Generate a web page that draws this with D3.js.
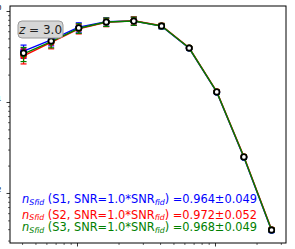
<!DOCTYPE html>
<html>
<head>
<meta charset="utf-8">
<script src="https://cdn.jsdelivr.net/npm/d3@7.9.0/dist/d3.min.js"></script>
<style>
  body { margin: 0; background: #fff; }
  svg { display: block; font-family: "DejaVu Sans", sans-serif; }
</style>
</head>
<body>
<div id="chart"></div>
<script>
const width = 295;
const height = 249;
const margin = { top: 6, right: 9, bottom: 6, left: 10 };

// bin centres (log spaced) and values
const xValues = [0.41, 0.65, 1.03, 1.63, 2.58, 4.10, 6.50, 10.3, 16.2, 25.7];
const fidValues = [0.345, 0.468, 0.651, 0.757, 0.776, 0.684, 0.392, 0.129, 0.0249, 0.00392];
const s1Values = [0.362, 0.482, 0.664, 0.762, 0.777, 0.682, 0.389, 0.128, 0.0246, 0.00388];
const s2Values = [0.322, 0.452, 0.638, 0.752, 0.781, 0.688, 0.394, 0.130, 0.0251, 0.00396];
const s3Values = [0.338, 0.462, 0.646, 0.757, 0.776, 0.684, 0.392, 0.129, 0.0249, 0.00392];
const errValues = [0.060, 0.068, 0.078, 0.080, 0.080, 0.045, 0.015, 0.005, 0.0012, 0.0002];

const seriesNames = ["S1", "S2", "S3"];
const seriesColors = ["#0000ff", "#ff0000", "#008000"];
const snrFactors = ["1.0", "1.0", "1.0"];
const scoreValues = ["0.964±0.049", "0.972±0.052", "0.968±0.049"];
const redshiftLabel = "3.0";

const yTickLabels = [["10", "0"], ["10", "−1"], ["10", "−2"]];

const svg = d3.select("#chart").append("svg")
    .attr("width", width)
    .attr("height", height);

const x = d3.scaleLog()
    .domain([0.327, 32.7])
    .range([margin.left, width - margin.right]);
const y = d3.scaleLog()
    .domain([0.00282, 1.135])
    .range([height - margin.bottom, margin.top]);

// ticks
function logTicks(lo, hi) {
    const out = [];
    for (let e = Math.floor(Math.log10(lo)); e <= Math.ceil(Math.log10(hi)); e++) {
        for (let m = 1; m < 10; m++) {
            const v = m * Math.pow(10, e);
            if (v >= lo && v <= hi) out.push(v);
        }
    }
    return out;
}
const isMajor = v => Math.abs(Math.log10(v) - Math.round(Math.log10(v))) < 1e-9;

const xTicks = logTicks(0.327, 32.7);
const yTicks = logTicks(0.00282, 1.135);

const xAxisG = svg.append("g")
    .attr("transform", "translate(0," + (height - margin.bottom) + ")")
    .call(d3.axisBottom(x).tickValues(xTicks).tickFormat("").tickSizeOuter(0));
xAxisG.select(".domain").remove();
xAxisG.selectAll(".tick line")
    .attr("y2", d => isMajor(d) ? 3.5 : 2)
    .attr("stroke-width", d => isMajor(d) ? 0.8 : 0.6);

const yAxisG = svg.append("g")
    .attr("transform", "translate(" + margin.left + ",0)")
    .call(d3.axisLeft(y).tickValues(yTicks).tickFormat("").tickSizeOuter(0));
yAxisG.select(".domain").remove();
yAxisG.selectAll(".tick line")
    .attr("x2", d => isMajor(d) ? -3.5 : -2)
    .attr("stroke-width", d => isMajor(d) ? 0.8 : 0.6);

// y tick labels (the crop only keeps their right tips)
const majorY = yTicks.filter(isMajor).sort((a, b) => b - a);
majorY.forEach((v, i) => {
    const t = svg.append("text")
        .attr("x", 1.5)
        .attr("y", y(v) + 4)
        .attr("text-anchor", "end")
        .attr("font-size", 10)
        .attr("fill", "#000");
    t.append("tspan").text(yTickLabels[i][0]);
    t.append("tspan").attr("font-size", 7).attr("dy", -5).text(yTickLabels[i][1]);
});

// frame
svg.append("rect")
    .attr("x", margin.left)
    .attr("y", margin.top)
    .attr("width", width - margin.left - margin.right)
    .attr("height", height - margin.top - margin.bottom)
    .attr("fill", "none")
    .attr("stroke", "#000")
    .attr("stroke-width", 1);

const line = d3.line()
    .x(d => x(d[0]))
    .y(d => y(d[1]));

const seriesValues = [s1Values, s2Values, s3Values];
seriesValues.forEach((vals, si) => {
    const color = seriesColors[si];
    const pts = xValues.map((xv, i) => [xv, vals[i], errValues[i]]);
    const g = svg.append("g");
    g.append("path")
        .datum(pts)
        .attr("d", line)
        .attr("fill", "none")
        .attr("stroke", color)
        .attr("stroke-width", 1.4);
    const eb = g.selectAll(".eb")
        .data(pts)
        .join("g");
    eb.append("line")
        .attr("x1", d => x(d[0])).attr("x2", d => x(d[0]))
        .attr("y1", d => y(d[1] + d[2])).attr("y2", d => y(Math.max(d[1] - d[2], 1e-6)))
        .attr("stroke", color).attr("stroke-width", 1.2);
    eb.append("line")
        .attr("x1", d => x(d[0]) - 3).attr("x2", d => x(d[0]) + 3)
        .attr("y1", d => y(d[1] + d[2])).attr("y2", d => y(d[1] + d[2]))
        .attr("stroke", color).attr("stroke-width", 1.2);
    eb.append("line")
        .attr("x1", d => x(d[0]) - 3).attr("x2", d => x(d[0]) + 3)
        .attr("y1", d => y(d[1] - d[2])).attr("y2", d => y(d[1] - d[2]))
        .attr("stroke", color).attr("stroke-width", 1.2);
    g.selectAll("circle")
        .data(pts)
        .join("circle")
        .attr("cx", d => x(d[0]))
        .attr("cy", d => y(d[1]))
        .attr("r", 3.4)
        .attr("fill", color);
});

// fiducial points
svg.append("g").selectAll("circle")
    .data(xValues.map((xv, i) => [xv, fidValues[i]]))
    .join("circle")
    .attr("cx", d => x(d[0]))
    .attr("cy", d => y(d[1]))
    .attr("r", 2.7)
    .attr("fill", "#fff")
    .attr("stroke", "#000")
    .attr("stroke-width", 1.7);

// redshift box
const box = svg.append("g");
box.append("rect")
    .attr("x", 18).attr("y", 21)
    .attr("width", 45).attr("height", 17)
    .attr("rx", 4)
    .attr("fill", "#d6d6d6")
    .attr("stroke", "#9a9a9a")
    .attr("stroke-width", 1);
const zt = box.append("text")
    .attr("x", 40.5).attr("y", 34)
    .attr("text-anchor", "middle")
    .attr("font-size", 12)
    .attr("fill", "#222");
zt.append("tspan").attr("font-style", "italic").text("z");
zt.append("tspan").text(" = " + redshiftLabel);

// score annotations
const textY = [203, 218.5, 231];
seriesNames.forEach((name, i) => {
    const t = svg.append("text")
        .attr("x", 22)
        .attr("y", textY[i])
        .attr("font-size", 11.4)
        .attr("fill", seriesColors[i]);
    t.append("tspan").attr("font-style", "italic").text("n");
    t.append("tspan").attr("font-style", "italic").attr("font-size", 7.8).attr("dy", 1.8).text("Sfid");
    t.append("tspan").attr("dy", -1.8).text(" (" + name + ", SNR=" + snrFactors[i] + "*SNR");
    t.append("tspan").attr("font-style", "italic").attr("font-size", 7.8).attr("dy", 1.8).text("fid");
    t.append("tspan").attr("dy", -1.8).text(") =" + scoreValues[i]);
});
</script>
</body>
</html>
